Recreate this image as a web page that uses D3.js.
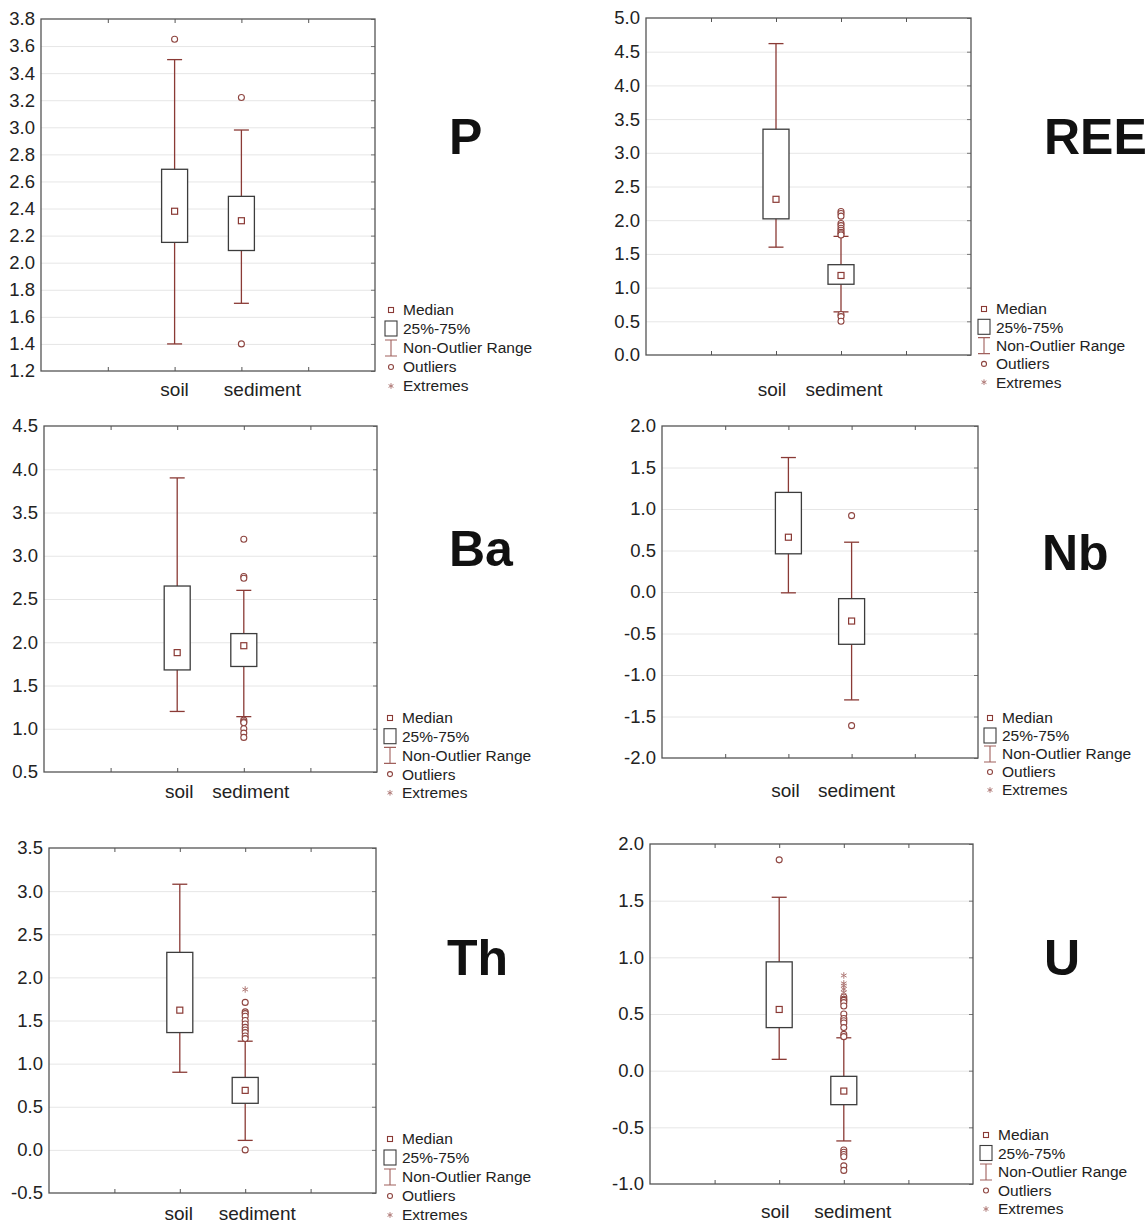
<!DOCTYPE html>
<html>
<head>
<meta charset="utf-8">
<script src="https://cdn.jsdelivr.net/npm/d3@7"></script>
<style>
  body { margin: 0; background: #fff; }
  svg { font-family: "Liberation Sans", Arial, sans-serif; }
</style>
</head>
<body>
<script>
// box plots of soil vs sediment, one panel per element

var elements = ["P", "REE", "Ba", "Nb", "Th", "U"];
var groups = ["soil", "sediment"];

var yTicks = [
  [1.2, 1.4, 1.6, 1.8, 2.0, 2.2, 2.4, 2.6, 2.8, 3.0, 3.2, 3.4, 3.6, 3.8],
  [0.0, 0.5, 1.0, 1.5, 2.0, 2.5, 3.0, 3.5, 4.0, 4.5, 5.0],
  [0.5, 1.0, 1.5, 2.0, 2.5, 3.0, 3.5, 4.0, 4.5],
  [-2.0, -1.5, -1.0, -0.5, 0.0, 0.5, 1.0, 1.5, 2.0],
  [-0.5, 0.0, 0.5, 1.0, 1.5, 2.0, 2.5, 3.0, 3.5],
  [-1.0, -0.5, 0.0, 0.5, 1.0, 1.5, 2.0]
];

// [soil, sediment] for each element
var medians = [[2.38, 2.31], [2.31, 1.18], [1.88, 1.96], [0.66, -0.35], [1.62, 0.69], [0.54, -0.18]];
var q25 = [[2.15, 2.09], [2.02, 1.05], [1.68, 1.72], [0.46, -0.63], [1.36, 0.54], [0.38, -0.30]];
var q75 = [[2.69, 2.49], [3.35, 1.34], [2.65, 2.10], [1.20, -0.08], [2.29, 0.84], [0.96, -0.05]];
var whiskerLow = [[1.40, 1.70], [1.60, 0.64], [1.20, 1.14], [-0.01, -1.30], [0.90, 0.11], [0.10, -0.62]];
var whiskerHigh = [[3.50, 2.98], [4.62, 1.76], [3.90, 2.60], [1.62, 0.60], [3.08, 1.26], [1.53, 0.29]];
var outliers = [
  [[3.65], [3.22, 1.40]],
  [[], [2.13, 2.10, 2.06, 1.95, 1.92, 1.88, 1.85, 1.82, 1.80, 1.78, 0.60, 0.57, 0.50]],
  [[], [3.19, 2.76, 2.74, 1.10, 1.08, 1.07, 1.00, 0.95, 0.90]],
  [[], [0.92, -1.61]],
  [[], [1.71, 1.60, 1.58, 1.55, 1.50, 1.46, 1.42, 1.39, 1.36, 1.32, 1.29, 0.00]],
  [[1.86], [0.65, 0.63, 0.62, 0.60, 0.57, 0.50, 0.46, 0.44, 0.42, 0.38, 0.32, 0.30, -0.70, -0.72, -0.74, -0.76, -0.84, -0.88]]
];
var extremes = [
  [[], []], [[], []], [[], []], [[], []],
  [[], [1.86]],
  [[], [0.84, 0.77, 0.75, 0.72, 0.69]]
];

var legendItems = ["Median", "25%-75%", "Non-Outlier Range", "Outliers", "Extremes"];

// panel placement on the page
var layout = [
  { x: 41, y: 19, w: 334, h: 352, labelDy: 25, soilDx: 0, sedDx: 21, tx: 449, ty: 154, lx: 391, ly: 310, ls: 19 },
  { x: 646, y: 18, w: 325, h: 337, labelDy: 41, soilDx: -4, sedDx: 3, tx: 1044, ty: 154, lx: 984, ly: 309, ls: 18.3 },
  { x: 44, y: 426, w: 333, h: 346, labelDy: 26, soilDx: 2, sedDx: 7, tx: 449, ty: 566, lx: 390, ly: 718, ls: 18.7 },
  { x: 662, y: 426, w: 316, h: 332, labelDy: 39, soilDx: -3, sedDx: 5, tx: 1042, ty: 570, lx: 990, ly: 718, ls: 18 },
  { x: 49, y: 848, w: 327, h: 345, labelDy: 27, soilDx: -1, sedDx: 12, tx: 447, ty: 975, lx: 390, ly: 1139, ls: 19 },
  { x: 650, y: 844, w: 323, h: 340, labelDy: 34, soilDx: -4, sedDx: 9, tx: 1044, ty: 975, lx: 986, ly: 1135, ls: 18.5 }
];

var red = "#8a3a35";
var boxStroke = "#3c3c3c";
var fmt = function(d) { return d3.format(".1f")(d).replace("\u2212", "-"); };

var svg = d3.select("body").append("svg").attr("width", 1148).attr("height", 1225);

elements.forEach(function(el, p) {
  var L = layout[p];
  var g = svg.append("g").attr("transform", "translate(" + L.x + "," + L.y + ")");
  var ticks = yTicks[p];

  var y = d3.scaleLinear().domain([ticks[0], ticks[ticks.length - 1]]).range([L.h, 0]);
  var x = d3.scaleLinear().domain([0, 5]).range([0, L.w]);

  // grid
  g.append("g")
    .call(d3.axisLeft(y).tickValues(ticks.slice(1, -1)).tickSize(-L.w).tickFormat(""))
    .call(a => a.select(".domain").remove())
    .selectAll("line").attr("stroke", "#e6e6e6");

  // y labels
  g.append("g")
    .call(d3.axisLeft(y).tickValues(ticks).tickSize(0).tickPadding(6).tickFormat(fmt))
    .call(a => a.select(".domain").remove())
    .selectAll("text").attr("font-size", 18.5).attr("fill", "#222").style("font-family", "Liberation Sans, Arial, sans-serif");

  // inner ticks on frame
  g.append("g").attr("transform", "translate(0," + L.h + ")")
    .call(d3.axisBottom(x).tickValues([1, 2, 3, 4]).tickSize(-4).tickFormat(""))
    .call(a => a.select(".domain").remove())
    .selectAll("line").attr("stroke", "#555");
  g.append("g")
    .call(d3.axisTop(x).tickValues([1, 2, 3, 4]).tickSize(-4).tickFormat(""))
    .call(a => a.select(".domain").remove())
    .selectAll("line").attr("stroke", "#555");
  g.append("g").attr("transform", "translate(" + L.w + ",0)")
    .call(d3.axisLeft(y).tickValues(ticks).tickSize(4).tickFormat(""))
    .call(a => a.select(".domain").remove())
    .selectAll("line").attr("stroke", "#777");

  g.append("rect").attr("width", L.w).attr("height", L.h)
    .attr("fill", "none").attr("stroke", "#555").attr("stroke-width", 1.3);

  groups.forEach(function(grp, i) {
    var cx = x(i + 2);
    var bw = 26, cw = 15;
    g.append("line").attr("x1", cx).attr("x2", cx)
      .attr("y1", y(whiskerLow[p][i])).attr("y2", y(whiskerHigh[p][i]))
      .attr("stroke", red).attr("stroke-width", 1.3);
    [whiskerLow[p][i], whiskerHigh[p][i]].forEach(function(v) {
      g.append("line").attr("x1", cx - cw / 2).attr("x2", cx + cw / 2)
        .attr("y1", y(v)).attr("y2", y(v))
        .attr("stroke", red).attr("stroke-width", 1.3);
    });
    g.append("rect").attr("x", cx - bw / 2).attr("width", bw)
      .attr("y", y(q75[p][i])).attr("height", y(q25[p][i]) - y(q75[p][i]))
      .attr("fill", "#fff").attr("stroke", boxStroke).attr("stroke-width", 1.3);
    g.append("rect").attr("x", cx - 3).attr("y", y(medians[p][i]) - 3)
      .attr("width", 6).attr("height", 6)
      .attr("fill", "#fff").attr("stroke", red).attr("stroke-width", 1.2);

    g.selectAll(null).data(outliers[p][i]).enter().append("circle")
      .attr("cx", cx).attr("cy", d => y(d)).attr("r", 3)
      .attr("fill", "#fff").attr("stroke", "#8e4540").attr("stroke-width", 1.1);

    g.selectAll(null).data(extremes[p][i]).enter().append("path")
      .attr("transform", d => "translate(" + cx + "," + y(d) + ")")
      .attr("d", d3.symbol(d3.symbolAsterisk, 30))
      .attr("fill", "none").attr("stroke", "#b07b78").attr("stroke-width", 1);

    g.append("text")
      .attr("x", cx + (i === 0 ? L.soilDx : L.sedDx))
      .attr("y", L.h + L.labelDy)
      .attr("text-anchor", "middle")
      .attr("font-size", 19).attr("fill", "#222")
      .text(grp);
  });

  // element name
  svg.append("text").attr("x", L.tx).attr("y", L.ty)
    .attr("font-size", 50).attr("font-weight", "bold").attr("fill", "#111")
    .text(el);

  // legend
  var lg = svg.append("g").attr("transform", "translate(" + L.lx + "," + L.ly + ")");
  legendItems.forEach(function(t, k) {
    var yy = k * L.ls;
    if (k === 0) {
      lg.append("rect").attr("x", -2.5).attr("y", yy - 2.5).attr("width", 5).attr("height", 5)
        .attr("fill", "#fff").attr("stroke", red).attr("stroke-width", 1.1);
    } else if (k === 1) {
      lg.append("rect").attr("x", -6).attr("y", yy - 8).attr("width", 12).attr("height", 15)
        .attr("fill", "#fff").attr("stroke", boxStroke).attr("stroke-width", 1.1);
    } else if (k === 2) {
      lg.append("path").attr("d", "M-6," + (yy - 8) + "H6M0," + (yy - 8) + "V" + (yy + 8) + "M-6," + (yy + 8) + "H6")
        .attr("fill", "none").attr("stroke", "#a0605c").attr("stroke-width", 1.1);
    } else if (k === 3) {
      lg.append("circle").attr("cx", 0).attr("cy", yy).attr("r", 2.5)
        .attr("fill", "#fff").attr("stroke", "#8e4540").attr("stroke-width", 1.1);
    } else {
      lg.append("path").attr("transform", "translate(0," + yy + ")")
        .attr("d", d3.symbol(d3.symbolAsterisk, 22))
        .attr("fill", "none").attr("stroke", "#b07b78").attr("stroke-width", 1);
    }
    lg.append("text").attr("x", 12).attr("y", yy).attr("dy", "0.35em")
      .attr("font-size", 15.5).attr("fill", "#222").text(t);
  });
});
</script>
</body>
</html>
